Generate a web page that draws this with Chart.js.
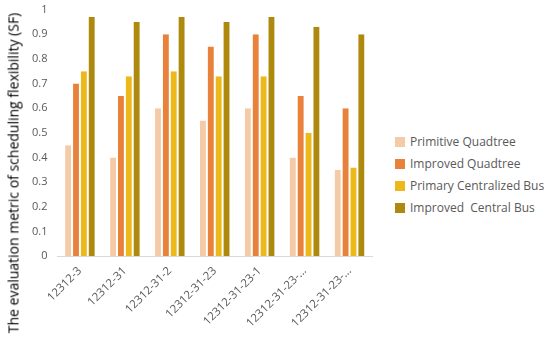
<!DOCTYPE html>
<html>
<head>
<meta charset="utf-8">
<script src="https://cdn.jsdelivr.net/npm/chart.js@4"></script>
<style>
  html, body { margin: 0; padding: 0; background: #fff; overflow: hidden; }
  #wrap { position: relative; width: 550px; height: 345px; overflow: hidden; }
  #chart { position: absolute; left: 0; top: -7px; }
  #ytitle { position: absolute; left: 13px; top: 173px; transform: translate(-50%, -50%) rotate(-90deg);
            white-space: nowrap; font-family: 'Open Sans', sans-serif; font-size: 14px; color: #000; }
  #legend { position: absolute; left: 395px; top: 131px; font-family: 'Open Sans', sans-serif; font-size: 12px; color: #595959; }
  #legend div { height: 22px; line-height: 22px; white-space: nowrap; }
  #legend span { display: inline-block; width: 10px; height: 10px; margin-right: 5px; vertical-align: -1px; }
</style>
</head>
<body>
<div id="wrap">
  <canvas id="chart" width="380" height="355"></canvas>
  <div id="ytitle">The evaluation metric of scheduling flexibility (SF)</div>
  <div id="legend"></div>
</div>
<script>
const categories = ['12312-3', '12312-31', '12312-31-2', '12312-31-23', '12312-31-23-1', '12312-31-23-...', '12312-31-23-...'];
const primitiveQuadtree = [0.45, 0.40, 0.60, 0.55, 0.60, 0.40, 0.35];
const improvedQuadtree = [0.70, 0.65, 0.90, 0.85, 0.90, 0.65, 0.60];
const primaryCentralizedBus = [0.75, 0.73, 0.75, 0.73, 0.73, 0.50, 0.36];
const improvedCentralBus = [0.97, 0.95, 0.97, 0.95, 0.97, 0.93, 0.90];
const seriesNames = ['Primitive Quadtree', 'Improved Quadtree', 'Primary Centralized Bus', 'Improved  Central Bus'];
const colors = ['#F5CBA7', '#E8823A', '#EDB91A', '#AD8A0E'];

const seriesData = [primitiveQuadtree, improvedQuadtree, primaryCentralizedBus, improvedCentralBus];

// legend as plain html, sits right of the plot
const legendEl = document.getElementById('legend');
seriesNames.forEach((name, i) => {
  legendEl.innerHTML += `<div><span style="background:${colors[i]}"></span>${name.replace(/ /g, '&nbsp;')}</div>`;
});

const ctx = document.getElementById('chart').getContext('2d');
new Chart(ctx, {
  type: 'bar',
  data: {
    labels: categories,
    datasets: seriesData.map((d, i) => ({
      label: seriesNames[i],
      data: d,
      backgroundColor: colors[i],
      borderColor: '#fff',
      borderWidth: { left: 1, right: 1, top: 0, bottom: 0 },
      categoryPercentage: 0.7,
      barPercentage: 1.0
    }))
  },
  options: {
    responsive: false,
    animation: false,
    layout: { padding: { top: 0, right: 8, left: 22, bottom: 10 } },
    plugins: {
      legend: { display: false },
      tooltip: { enabled: false }
    },
    scales: {
      x: {
        grid: { display: false, drawTicks: false },
        border: { color: '#d9d9d9' },
        ticks: {
          color: '#595959',
          font: { family: 'Open Sans', size: 11.5 },
          maxRotation: 45,
          minRotation: 45,
          autoSkip: false,
          padding: 8
        }
      },
      y: {
        min: 0,
        max: 1,
        grid: { display: false, drawTicks: false },
        border: { display: false },
        ticks: {
          stepSize: 0.1,
          color: '#595959',
          font: { family: 'Open Sans', size: 11 },
          padding: 10,
          callback: v => Math.round(v * 10) / 10
        }
      }
    }
  }
});
</script>
</body>
</html>
